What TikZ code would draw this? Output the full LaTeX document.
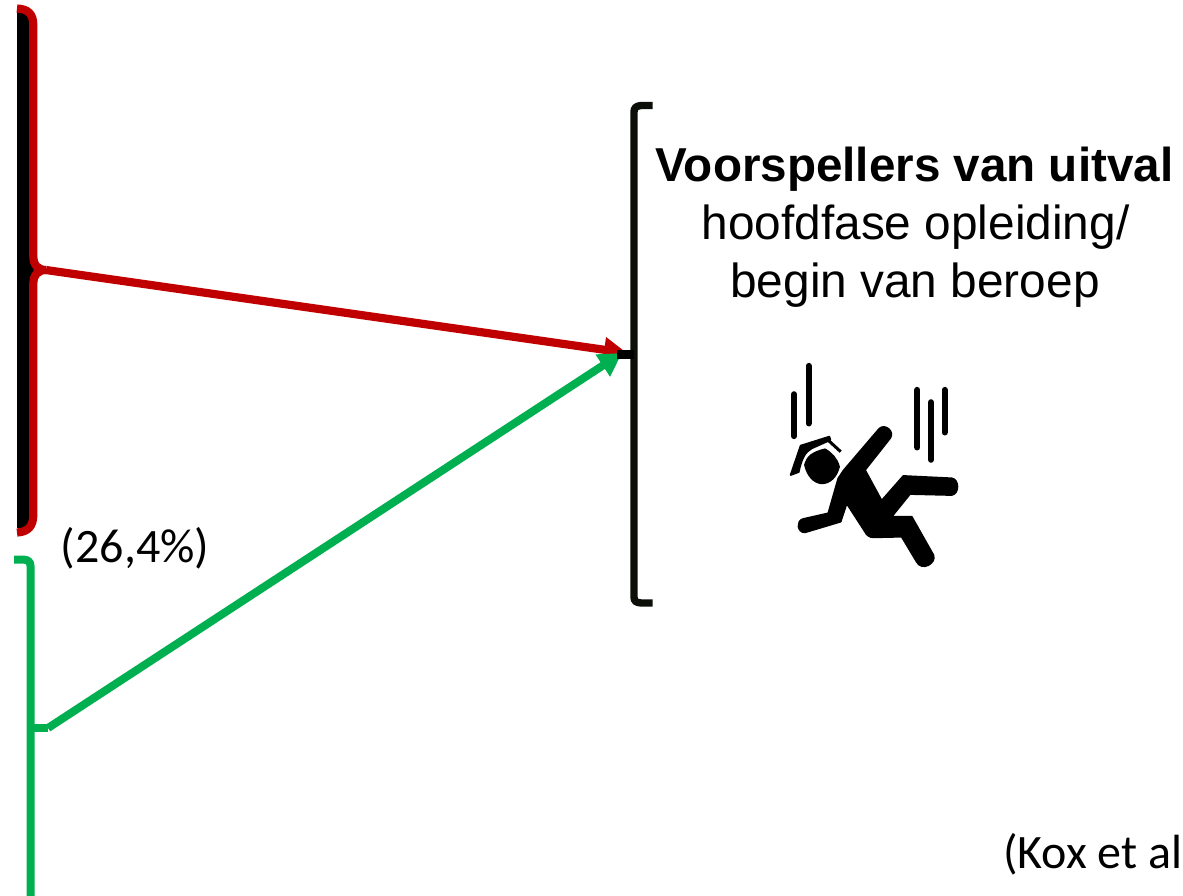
\documentclass[tikz,border=0pt]{standalone}
\usepackage{fontspec}
\setmainfont{Liberation Sans}
\newfontfamily\calib{Carlito}
\usetikzlibrary{arrows.meta}
\definecolor{bred}{HTML}{C00000}
\definecolor{bgreen}{HTML}{00B050}
\definecolor{bdark}{HTML}{0C0F08}
\tikzset{
  redline/.style={draw=bred,line width=8.2pt},
  greenline/.style={draw=bgreen,line width=8pt},
  darkline/.style={draw=bdark,line width=7.4pt},
  redarrow/.style={redline,-{Triangle[length=23pt,width=24pt]}},
  greenarrow/.style={greenline,-{Triangle[length=23pt,width=25pt]}},
  icon/.style={draw=black,line width=6.3pt,line cap=round},
  figshape/.style={fill=black,draw=black,line width=1.8pt,line join=round},
  lbl/.style={inner sep=0pt,anchor=base}
}
\begin{document}
\begin{tikzpicture}[x=1pt,y=-1pt]
\useasboundingbox (0,0) rectangle (1183,895);
\coordinate (redtip) at (46,270);
\coordinate (greentip) at (48,728);
\coordinate (target) at (627,353);
\coordinate (target2) at (622,353);
% black bar + red brace
\fill[black] (17,12) rectangle (30,528);
\fill[black] (29,260) -- (35,271) -- (29,282) -- cycle;
\draw[redline] (17,8.5) .. controls (28,9) and (33.3,14) .. (33.3,25) -- (33.3,256) .. controls (33.3,265) and (38,270) .. (redtip);
\draw[redline] (redtip) .. controls (38,270) and (33.3,275) .. (33.3,284) -- (33.3,515) .. controls (33.3,526) and (28,532) .. (17,532.5);
% green brace
\draw[greenline] (14,559.5) -- (24,559.5) .. controls (28,560) and (30.5,562) .. (30.5,566) -- (30.5,900);
\draw[greenline] (30.5,728) -- (greentip);
% arrows
\draw[redarrow] (redtip) -- (target);
\draw[greenarrow] (greentip) -- (target2);
% black bracket
\draw[darkline,line cap=butt] (652.5,105.5) -- (641,105.5) .. controls (636,106) and (634,108) .. (634,112) -- (634,597) .. controls (634,601) and (636,602.5) .. (641,603) -- (652.5,603);
\draw[draw=black,line width=8.5pt] (634,354.5) -- (617,354.5);
% texts
\node[lbl,font=\fontsize{47.6}{47.6}\selectfont\bfseries] (t1) at (914.5,181.5) {Voorspellers van uitval};
\node[lbl,font=\fontsize{47.8}{47.8}\selectfont] (t2) at (915.5,239.5) {hoofdfase opleiding/};
\node[lbl,font=\fontsize{47.8}{47.8}\selectfont] (t3) at (915,297.5) {begin van beroep};
\node[lbl,font=\calib\fontsize{48}{48}\selectfont] (t4) at (135,562) {(26,4\%)};
\node[lbl,font=\calib\fontsize{48}{48}\selectfont,anchor=base west] (t5) at (1003,868) {(Kox et al};
% falling figure, in the coordinates of a 3x crop
\begin{scope}[shift={(770,350)},x=0.3333pt,y=-0.3333pt]
\draw[icon] (72,133) -- (72,258);
\draw[icon] (116,48) -- (116,220);
\draw[icon] (442,120) -- (442,292);
\draw[icon] (483,157) -- (483,329);
\draw[icon] (524,120) -- (524,247);
\path[figshape] (222,360) -- (328,236) .. controls (345,220) and (375,245) .. (360,265) -- (285,360) -- (335,452) -- (400,378) -- (545,385) .. controls (568,388) and (568,432) .. (545,435) -- (420,432) -- (365,500) -- (425,500) -- (490,615) .. controls (500,640) and (455,665) .. (440,635) -- (395,560) -- (310,562) .. controls (298,562) and (290,555) .. (285,545) -- (230,460) -- (212,515) -- (105,547) .. controls (82,548) and (78,512) .. (100,507) -- (175,490) -- (205,385) -- cycle;
% head
\path[figshape] (105,345) .. controls (112,320) and (125,308) .. (165,298) .. controls (185,310) and (200,325) .. (207,350) .. controls (200,380) and (180,400) .. (155,400) .. controls (130,398) and (112,375) .. (105,345) -- cycle;
% cap
\path[figshape] (62,375) -- (92,287) -- (178,260) -- (181,270) -- (125,295) .. controls (105,306) and (95,325) .. (86,366) -- cycle;
\draw[black,line width=3pt] (176,272) -- (212,305);
\end{scope}
\end{tikzpicture}
\end{document}
